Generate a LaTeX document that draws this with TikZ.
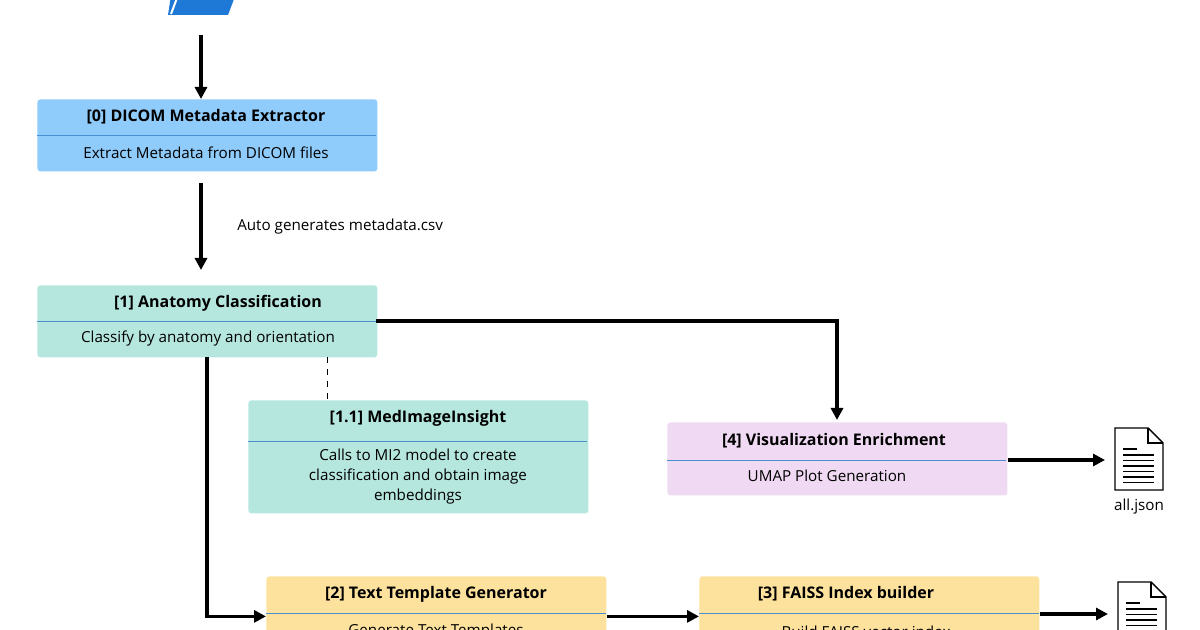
\documentclass[tikz,border=0pt]{standalone}
\usepackage{fontspec}
\setmainfont{Open Sans}
\usetikzlibrary{arrows.meta,positioning}
\definecolor{blueF}{HTML}{8FCBFB}
\definecolor{blueL}{HTML}{4A90D0}
\definecolor{tealF}{HTML}{B6E7DF}
\definecolor{pinkF}{HTML}{F0D9F2}
\definecolor{yellF}{HTML}{FDE29E}
\definecolor{iconB}{HTML}{1E78D6}
\begin{document}
\begin{tikzpicture}[x=0.5pt,y=-0.5pt,
		box/.style={rectangle,rounded corners=1.5pt,draw=none,minimum width=170pt,inner sep=0pt},
		head/.style={font=\fontsize{8}{9}\selectfont\bfseries},
		body/.style={font=\fontsize{7.6}{10}\selectfont,align=center},
		flow/.style={line width=1.6pt,-{Triangle[length=6pt,width=6pt]}},
		]
		\clip (0,0) rectangle (1200,630);
		\useasboundingbox (0,0) rectangle (1200,630);
		% icon at top
		\fill[iconB] (175,-30) -- (245,-30) -- (228,15) -- (168,15) -- cycle;
		\draw[white,line width=1pt] (180,-10) -- (171,14);
		
		% boxes
		\node[box,fill=blueF,minimum height=36pt,anchor=north west](B0) at (37,99){};
		\node[box,fill=tealF,minimum height=36pt,anchor=north west](B1) at (37,285){};
		\node[box,fill=tealF,minimum height=56.5pt,anchor=north west](B11) at (248,400){};
		\node[box,fill=pinkF,minimum height=36.5pt,anchor=north west](B4) at (667,422){};
		\node[box,fill=yellF,minimum height=40pt,anchor=north west](B2) at (266,576){};
		\node[box,fill=yellF,minimum height=40pt,anchor=north west](B3) at (699,576){};
		
		% dividers
		\draw[blueL,line width=0.3pt] (37,135) -- (376,135);
		\draw[blueL,line width=0.3pt] (37,321) -- (376,321);
		\draw[blueL,line width=0.3pt] (248,441) -- (587,441);
		\draw[blueL,line width=0.3pt] (667,460) -- (1006,460);
		\draw[blueL,line width=0.3pt] (266,613) -- (606,613);
		\draw[blueL,line width=0.3pt] (699,613) -- (1039,613);
		
		% texts
		\node[head](H0) at (206,117){[0] DICOM Metadata Extractor};
		\node[body](T0) at (206,153){Extract Metadata from DICOM files};
		\node[head](H1) at (218,303){[1] Anatomy Classification};
		\node[body](T1) at (208,339){Classify by anatomy and orientation};
		\node[head](H11) at (418,418){[1.1] MedImageInsight};
		\node[body](T11) at (418,477){Calls to MI2 model to create\\classification and obtain image\\embeddings};
		\node[head](H4) at (834,441){[4] Visualization Enrichment};
		\node[body](T4) at (827,476){UMAP Plot Generation};
		\node[head](H2) at (436,594){[2] Text Template Generator};
		\node[body](T2) at (436,632){Generate Text Templates};
		\node[head](H3) at (846,594){[3] FAISS Index builder};
		\node[body](T3) at (866,632){Build FAISS vector index};
		
		% document icons
		\foreach \n/\x/\y in {D4/1115/428,D3/1118/582}{
			\draw[line width=0.7pt,fill=white] (\x,\y) -- ++(33,0) -- ++(15,15) -- ++(0,47) -- ++(-48,0) -- cycle;
			\draw[line width=0.7pt] (\x+33,\y) -- ++(0,15) -- ++(15,0);
			\draw[line width=0.8pt] (\x+8,\y+21) -- ++(14,0);
			\foreach \k in {0,...,5}
				\draw[line width=0.8pt] (\x+8,\y+27+\k*5.5) -- ++(31,0);
			\coordinate(\n) at (\x-10,\y+32);
		}
		\node[font=\fontsize{7.6}{9}\selectfont](L4) at (1139,507){all.json};
		
		% connectors
		\coordinate(S0) at (201,35);
		\draw[flow] (S0) -- (B0.north west -| S0);
		\draw[flow] (201,183) -- (201,270) node[midway,right,xshift=14pt,font=\fontsize{7.6}{9}\selectfont]{Auto generates metadata.csv};
		\draw[flow] (376,321) -| (837,420);
		\draw[flow] (207,357) |- (B2.west);
		\draw[dashed,line width=0.5pt] (327,357) -- (327,400);
		\draw[flow] (B2.east) -- (B3.west);
		\draw[flow] (B4.east |- D4) -- (D4);
		\draw[flow] (B3.east |- D3) -- (D3);
	\end{tikzpicture}
\end{document}
